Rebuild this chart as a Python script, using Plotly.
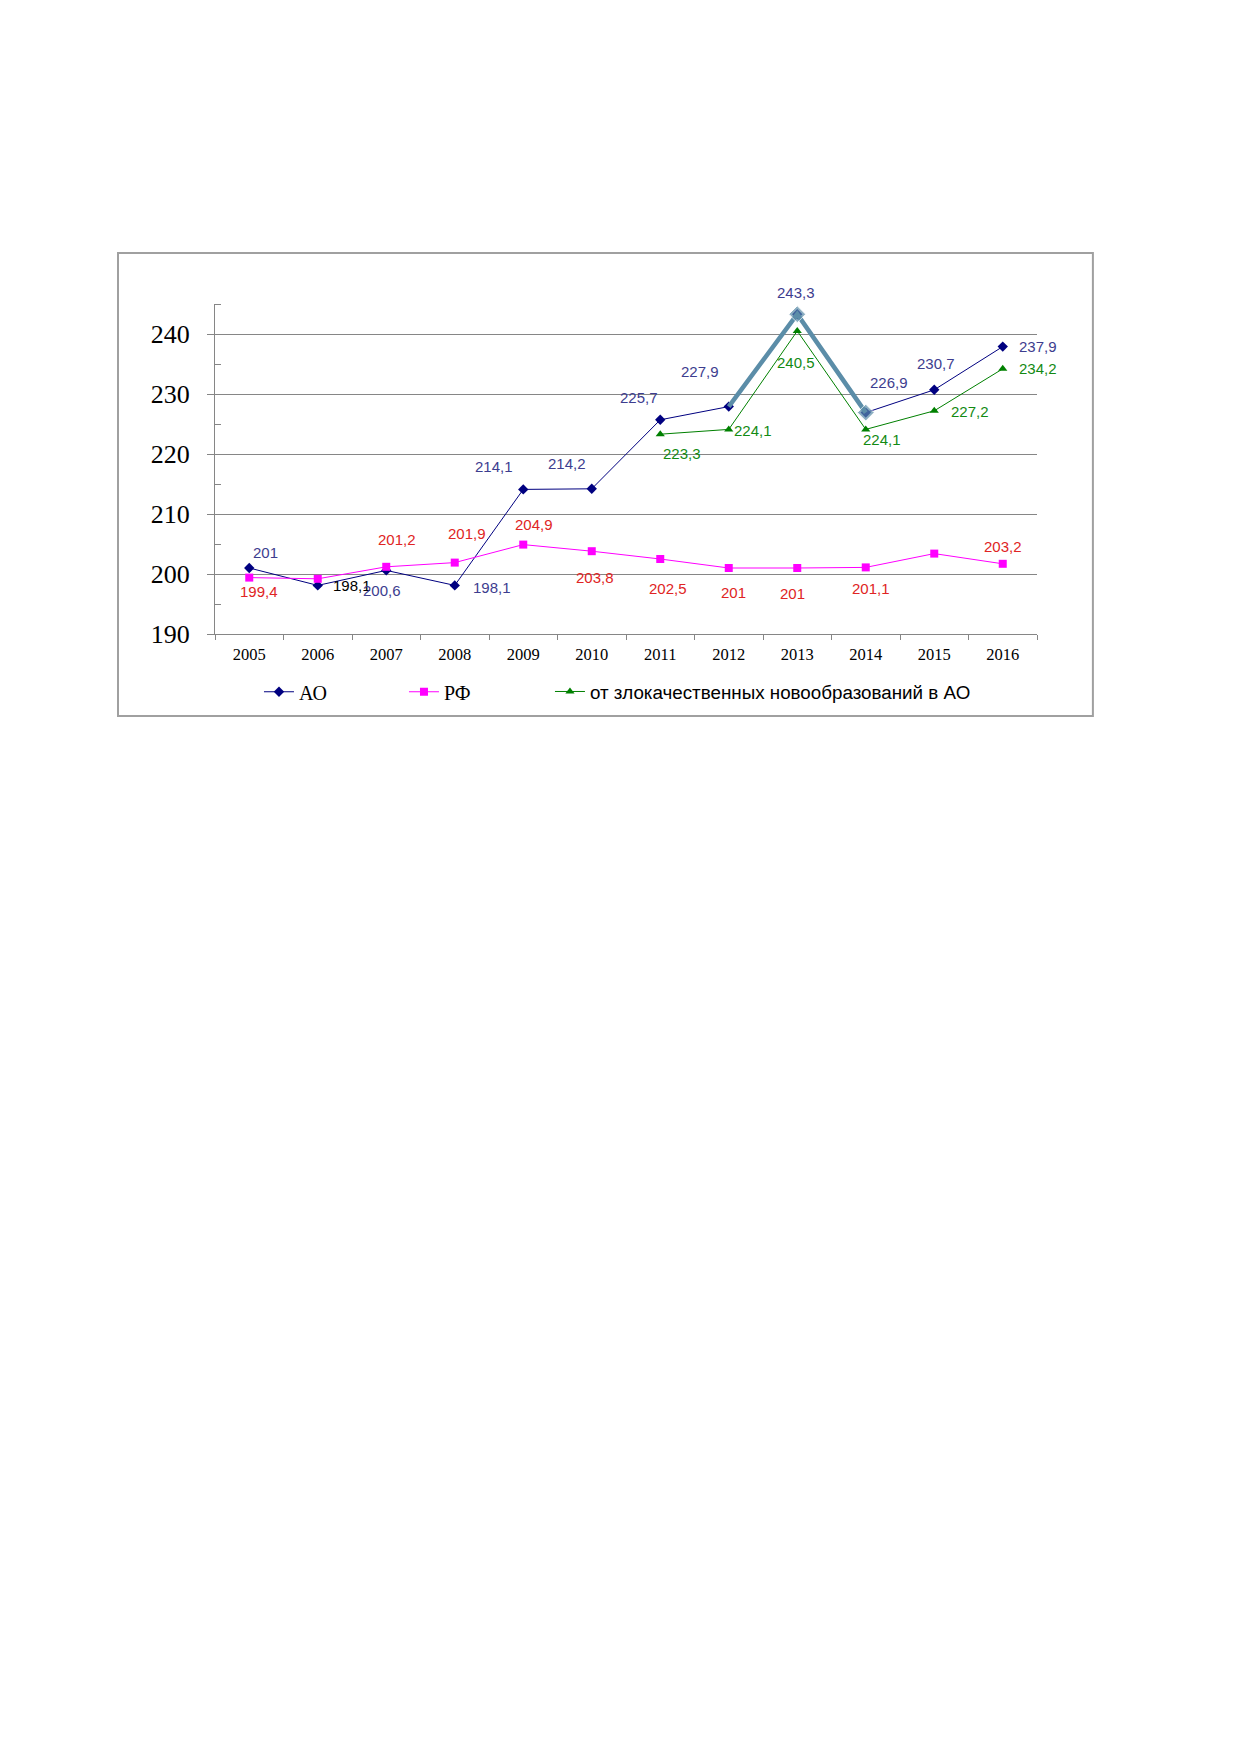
import plotly.graph_objects as go

# Values
years = ['2005', '2006', '2007', '2008', '2009', '2010',
         '2011', '2012', '2013', '2014', '2015', '2016']
ao = [201, 198.1, 200.6, 198.1, 214.1, 214.2, 225.7, 227.9, 243.3, 226.9, 230.7, 237.9]
rf = [199.4, 199.2, 201.2, 201.9, 204.9, 203.8, 202.5, 201, 201, 201.1, 203.4, 201.7]
onco = [None, None, None, None, None, None, 223.3, 224.1, 240.5, 224.1, 227.2, 234.2]

# Data label texts as printed on the chart
ao_labels = ['201', '198,1', '200,6', '198,1', '214,1', '214,2',
             '225,7', '227,9', '243,3', '226,9', '230,7', '237,9']
rf_labels = ['199,4', '', '201,2', '201,9', '204,9', '203,8',
             '202,5', '201', '201', '201,1', '', '203,2']
onco_labels = ['', '', '', '', '', '', '223,3', '224,1', '240,5', '224,1', '227,2', '234,2']

# Highlighted part of the AO line (2012-2014)
hl_idx = [7, 8, 9]

# label placement (pixel shifts from the point), kept apart from the data
ao_shift = [(16, 16), (34, 0), (-4, -20), (37, -2), (-29, 23), (-25, 25),
            (-21, 22), (-29, 35), (-1, 22), (23, 30), (2, 26), (35, 0)]
rf_shift = [(10, -14), (0, 0), (11, 27), (12, 29), (11, 20), (3, -26),
            (8, -29), (5, -24), (-5, -25), (5, -21), (0, 0), (0, 17)]
onco_shift = [(0, 0)] * 6 + [(22, -19), (24, -1), (-1, -31), (16, -10), (36, -1), (35, 0)]
ao_label_colors = ['#3D3D8F', '#000000'] + ['#3D3D8F'] * 10

GRID = '#868686'
SANS = 'Liberation Sans'
SERIF = 'Liberation Serif'

fig = go.Figure()

fig.add_trace(go.Scatter(
    x=years, y=ao, name='АО', mode='lines+markers', legend='legend',
    line=dict(color='#000080', width=1),
    marker=dict(symbol='diamond', size=8, color='#000080')))

fig.add_trace(go.Scatter(
    x=years, y=rf, name='РФ', mode='lines+markers', legend='legend2',
    line=dict(color='#FF00FF', width=1),
    marker=dict(symbol='square', size=8, color='#FF00FF')))

fig.add_trace(go.Scatter(
    x=[years[i] for i in hl_idx], y=[ao[i] for i in hl_idx],
    mode='lines+markers', showlegend=False, hoverinfo='skip',
    line=dict(color='#5B8DA8', width=4.5),
    marker=dict(symbol='diamond', size=[0, 13, 13], color='#5B8DA8')))

fig.add_trace(go.Scatter(
    x=years, y=onco, name='от злокачественных новообразований в АО',
    mode='lines+markers', legend='legend3',
    line=dict(color='#008000', width=1),
    marker=dict(symbol='triangle-up', size=8, color='#008000')))

# data labels (x given as category position, since the years look numeric)
annots = []
def add_labels(values, labels, shifts, colors):
    for i, (v, t, (dx, dy), c) in enumerate(zip(values, labels, shifts, colors)):
        if v is None or t == '':
            continue
        annots.append(dict(x=i, y=v, xref='x', yref='y', text=t, showarrow=False,
                           xshift=dx, yshift=dy,
                           font=dict(family=SANS, size=15, color=c)))

add_labels(ao, ao_labels, ao_shift, ao_label_colors)
add_labels(rf, rf_labels, rf_shift, ['#E02424'] * 12)
add_labels(onco, onco_labels, onco_shift, ['#138A13'] * 12)

legend_common = dict(orientation='h', xanchor='left', y=-0.175, yanchor='middle',
                     bgcolor='rgba(0,0,0,0)')

fig.update_layout(
    width=1239, height=1752,
    margin=dict(l=207, r=210, t=296, b=1126),
    paper_bgcolor='white', plot_bgcolor='white',
    annotations=annots,
    # chart frame
    shapes=[dict(type='rect', xref='paper', yref='paper',
                 x0=-0.118, x1=1.068, y0=-0.2485, y1=1.1545,
                 line=dict(color='#A0A0A0', width=2), layer='below')],
    xaxis=dict(type='category', range=[-0.5, 11.5],
               showline=True, linecolor=GRID, linewidth=1,
               ticks='outside', tickson='boundaries', ticklen=5, tickcolor=GRID,
               showgrid=False, ticklabelstandoff=5,
               tickfont=dict(family=SERIF, size=16.5, color='black')),
    yaxis=dict(range=[190, 245], tick0=190, dtick=10,
               showgrid=True, gridcolor=GRID, gridwidth=1, zeroline=False,
               showline=True, linecolor=GRID, linewidth=1,
               ticks='outside', ticklen=7, tickcolor=GRID,
               ticklabelstandoff=12,
               minor=dict(dtick=5, ticks='inside', ticklen=6, tickcolor=GRID, showgrid=False),
               tickfont=dict(family=SERIF, size=26, color='black')),
    legend=dict(x=0.0535, font=dict(family=SERIF, size=20, color='black'), **legend_common),
    legend2=dict(x=0.2299, font=dict(family=SERIF, size=20, color='black'), **legend_common),
    legend3=dict(x=0.4075, font=dict(family=SANS, size=18.8, color='black'), **legend_common),
    showlegend=True,
)

fig.write_html("out.html", config={'displayModeBar': False})
